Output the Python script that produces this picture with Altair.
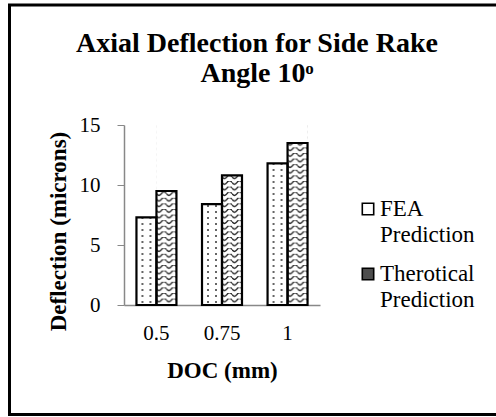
import base64
import altair as alt
import pandas as pd

# ---- data ----
doc = ["0.5", "0.75", "1"]
fea = [7.3, 8.4, 11.8]
theo = [9.5, 10.8, 13.5]
series = ["FEA Prediction", "Therotical Prediction"]
y_ticks = [0, 5, 10, 15]
title_lines = ["Axial Deflection for Side Rake", "Angle 10ᵒ"]

rows = []
for d, a, b in zip(doc, fea, theo):
    rows.append({"doc": d, "series": series[0], "value": a})
    rows.append({"doc": d, "series": series[1], "value": b})
df = pd.DataFrame(rows)
leg_df = pd.DataFrame({"series": series})
one = pd.DataFrame({"k": [0]})

FONT = "Liberation Serif"

# pattern images (dots / waves) used as bar fills
dots_svg = (
    "<svg xmlns='http://www.w3.org/2000/svg' width='20' height='180'>"
    "<defs><pattern id='d' width='20' height='6' patternUnits='userSpaceOnUse'>"
    "<rect width='20' height='6' fill='white'/>"
    "<circle cx='6' cy='3' r='1' fill='#333'/>"
    "<circle cx='14' cy='3' r='1' fill='#333'/>"
    "</pattern></defs>"
    "<rect width='20' height='180' fill='url(#d)'/></svg>"
)
wave_svg = (
    "<svg xmlns='http://www.w3.org/2000/svg' width='20' height='180'>"
    "<defs><pattern id='w' width='10' height='5.6' patternUnits='userSpaceOnUse'>"
    "<rect width='10' height='5.6' fill='white'/>"
    "<path d='M0,1.5 Q2.5,4.8 5,1.5 T10,1.5' fill='none' stroke='#222' stroke-width='1.4'/>"
    "</pattern></defs>"
    "<rect width='20' height='180' fill='url(#w)'/></svg>"
)
u_dots = "data:image/svg+xml;base64," + base64.b64encode(dots_svg.encode()).decode()
u_wave = "data:image/svg+xml;base64," + base64.b64encode(wave_svg.encode()).decode()

x_enc = alt.X(
    "doc:N",
    sort=doc,
    scale=alt.Scale(paddingInner=0.39, paddingOuter=0.19),
    axis=alt.Axis(
        title="DOC (mm)",
        labelAngle=0,
        ticks=False,
        tickSize=0,
        labelPadding=17,
        titleY=54,
        titleBaseline="top",
        domainColor="#888888",
        domainWidth=1.5,
        labelFont=FONT,
        labelFontSize=21,
        labelColor="black",
        titleFont=FONT,
        titleFontSize=23,
        titleFontWeight="bold",
        titleColor="black",
    ),
)
xo_enc = alt.XOffset("series:N", sort=series)
y_scale = alt.Scale(domain=[0, 15], nice=False)

base = alt.Chart(df)

patterns = base.transform_calculate(
    url=f"datum.series == '{series[0]}' ? '{u_dots}' : '{u_wave}'"
).mark_image(aspect=False).encode(
    x=x_enc,
    xOffset=xo_enc,
    y=alt.datum(
        0,
        scale=y_scale,
        axis=alt.Axis(
            title="Deflection (microns)",
            values=y_ticks,
            grid=False,
            tickSize=7,
            tickColor="#888888",
            domainColor="#888888",
            domainWidth=1.5,
            labelPadding=17,
            titleX=-59,
            titleY=106,
            titleBaseline="alphabetic",
            labelFont=FONT,
            labelFontSize=21,
            labelColor="black",
            titleFont=FONT,
            titleFontSize=23,
            titleFontWeight="bold",
            titleColor="black",
        ),
    ),
    y2=alt.datum(15),
    url="url:N",
)

cover = base.mark_bar(color="white", stroke=None).encode(
    x=x_enc,
    xOffset=xo_enc,
    y=alt.Y("value:Q", scale=y_scale),
    y2=alt.datum(15),
)

outline = base.mark_bar(fillOpacity=0, stroke="black", strokeWidth=2.2).encode(
    x=x_enc,
    xOffset=xo_enc,
    y=alt.Y("value:Q", scale=y_scale),
)

frame = alt.Chart(one).mark_rect(
    fill=None, stroke="black", strokeWidth=3
).encode(
    x=alt.value(-114.5),
    x2=alt.value(400),
    y=alt.value(-120),
    y2=alt.value(289.5),
)

title = alt.Chart(one).mark_text(
    text=title_lines,
    align="center",
    baseline="alphabetic",
    font=FONT,
    fontSize=28,
    fontWeight="bold",
    lineHeight=30,
    color="black",
).encode(x=alt.value(133), y=alt.value(-73))

# legend drawn as marks (symbol + wrapped label)
sym_fill = ["white", "#4d4d4d"]
legend_layers = []
for i, s in enumerate(series):
    ly = 84 + 65 * i
    sym = alt.Chart(leg_df).transform_filter(alt.datum.series == s).mark_square(
        size=130, fill=sym_fill[i], stroke="black", strokeWidth=1.6, opacity=1
    ).encode(x=alt.value(244), y=alt.value(ly))
    txt = alt.Chart(leg_df).transform_filter(alt.datum.series == s).transform_calculate(
        lab="split(datum.series, ' ')"
    ).mark_text(
        align="left", baseline="alphabetic", font=FONT, fontSize=23,
        lineHeight=26, color="black"
    ).encode(x=alt.value(256), y=alt.value(ly + 7), text="lab:N")
    legend_layers += [sym, txt]

chart = (
    alt.layer(patterns, cover, outline, frame, title, *legend_layers)
    .properties(
        width=196,
        height=180,
        autosize=alt.AutoSizeParams(type="none"),
        padding={"left": 124, "top": 125, "right": 176, "bottom": 112},
        background="white",
    )
    .configure_view(stroke=None)
)

chart.save("out.html", embed_options={"renderer": "svg", "actions": False})
